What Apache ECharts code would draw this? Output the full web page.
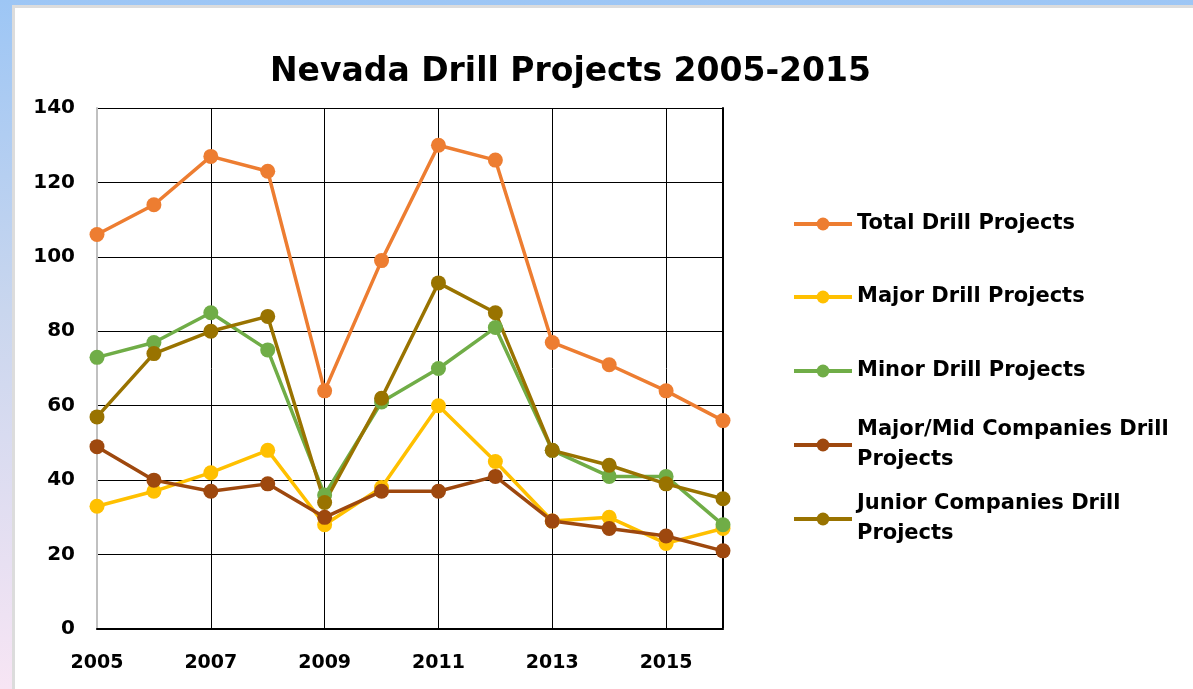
<!DOCTYPE html>
<html>
<head>
<meta charset="utf-8">
<script src="https://cdn.jsdelivr.net/npm/echarts@6/dist/echarts.min.js"></script>
<style>
html,body{margin:0;padding:0;width:1193px;height:689px;overflow:hidden;
  background:linear-gradient(to bottom,#9dc6f5 0%,#c9d6ee 45%,#f7e5f4 100%);}
#frame{position:absolute;left:12px;top:5px;width:1181px;height:684px;background:#dcdcdc;}
#main{position:absolute;left:15px;top:8px;width:1178px;height:681px;background:#fff;}
</style>
</head>
<body>
<div id="frame"></div>
<div id="main"></div>
<script>
// 年份
var years = ['2005','2006','2007','2008','2009','2010','2011','2012','2013','2014','2015','2016'];
// 各类钻探项目数量
var totalDrill = [106,114,127,123,64,99,130,126,77,71,64,56];
var majorDrill = [33,37,42,48,28,38,60,45,29,30,23,27];
var minorDrill = [73,77,85,75,36,61,70,81,48,41,41,28];
var majorMidDrill = [49,40,37,39,30,37,37,41,29,27,25,21];
var juniorDrill = [57,74,80,84,34,62,93,85,48,44,39,35];

var seriesNames = ['Total Drill Projects','Major Drill Projects','Minor Drill Projects',
	'Major/Mid Companies Drill Projects','Junior Companies Drill Projects'];
var legendText = ['Total Drill Projects','Major Drill Projects','Minor Drill Projects',
	'Major/Mid Companies Drill\nProjects','Junior Companies Drill\nProjects'];
var colors = ['#ED7D31','#FFC000','#70AD47','#9E480E','#997300'];
var allData = [totalDrill,majorDrill,minorDrill,majorMidDrill,juniorDrill];
var legendTop = [216,289,363,437,511]; //图例中心位置

var fontName = 'DejaVu Sans';

var myChart = echarts.init(document.getElementById('main'));

var series = [];
var legends = [];
for(var i=0;i<seriesNames.length;i++){
	series.push({
		name: seriesNames[i],
		type: 'line',
		data: allData[i],
		symbol: 'circle',
		symbolSize: 15,
		color: colors[i],
		lineStyle: {width: 3.5, color: colors[i]},
		itemStyle: {color: colors[i]},
		animation: false
	});
	var wrapped = legendText[i].indexOf('\n') >= 0;
	legends.push({
		data: [seriesNames[i]],
		left: 777,
		top: wrapped ? legendTop[i] - 45 : legendTop[i] - 15,
		padding: 0,
		itemWidth: 58,
		itemHeight: 16,
		selectedMode: false,
		lineStyle: {width: 4},
		formatter: (function(t){ return function(){ return t; }; })(legendText[i]),
		textStyle: {
			fontFamily: fontName,
			fontWeight: 'bold',
			fontSize: 21,
			color: '#000',
			lineHeight: 30,
			padding: wrapped ? [30,0,0,0] : 0
		}
	});
}

var option = {
	backgroundColor: '#fff',
	title: {
		text: 'Nevada Drill Projects 2005-2015',
		left: 255,
		top: 44,
		padding: 0,
		textStyle: {
			fontFamily: fontName,
			fontWeight: 'bold',
			fontSize: 33,
			lineHeight: 40,
			color: '#000'
		}
	},
	legend: legends,
	grid: {left: 82, top: 100, width: 626, height: 521, containLabel: false},
	xAxis: [{
		type: 'category',
		data: years,
		boundaryGap: false,
		axisLine: {lineStyle: {color: '#c0c0c0', width: 2}},
		axisTick: {show: false},
		axisLabel: {
			interval: 1,
			margin: 25,
			fontFamily: fontName,
			fontWeight: 'bold',
			fontSize: 19,
			color: '#000'
		},
		splitLine: {
			show: true,
			interval: function(idx){ return idx > 0 && idx % 2 === 0; },
			lineStyle: {color: '#000', width: 1}
		}
	},{
		type: 'category',
		data: years,
		position: 'top',
		boundaryGap: false,
		axisLine: {lineStyle: {color: '#000', width: 2}},
		axisTick: {show: false},
		axisLabel: {show: false},
		splitLine: {show: false}
	}],
	yAxis: [{
		type: 'value',
		min: 0,
		max: 140,
		interval: 20,
		axisLine: {show: true, lineStyle: {color: '#c0c0c0', width: 2}},
		axisTick: {show: false},
		axisLabel: {
			margin: 22,
			fontFamily: fontName,
			fontWeight: 'bold',
			fontSize: 20,
			color: '#000'
		},
		splitLine: {lineStyle: {color: '#000', width: 1}}
	},{
		type: 'value',
		position: 'right',
		min: 0,
		max: 140,
		interval: 20,
		axisLine: {show: true, lineStyle: {color: '#000', width: 2}},
		axisTick: {show: false},
		axisLabel: {show: false},
		splitLine: {show: false}
	}],
	series: series
};

myChart.setOption(option);
</script>
</body>
</html>
